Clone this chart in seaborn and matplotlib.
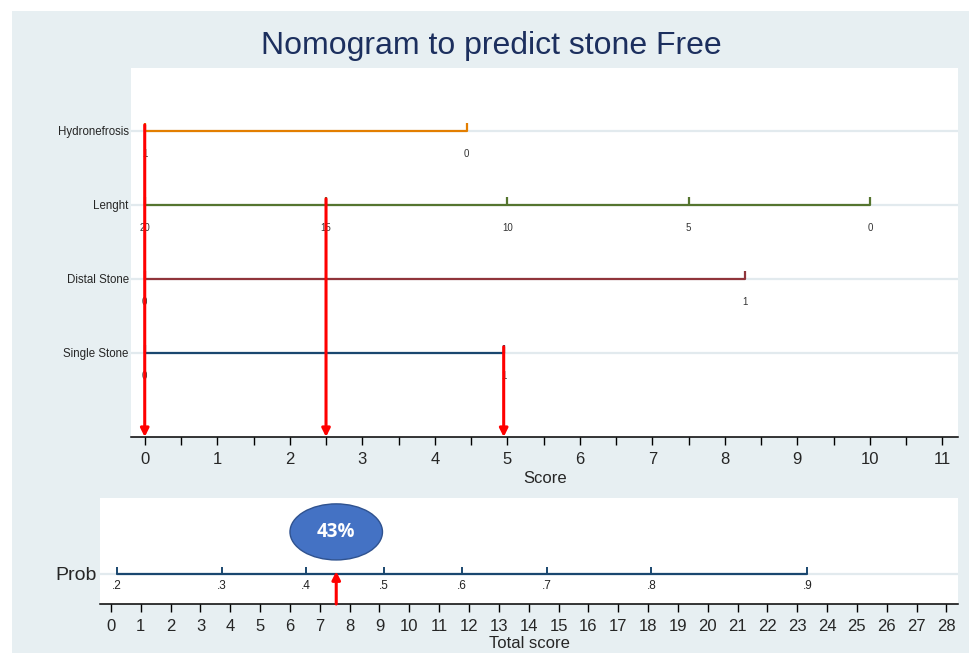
import numpy as np
import pandas as pd
import seaborn as sns
import matplotlib.pyplot as plt
from matplotlib.patches import Ellipse, Rectangle

# nomogram rows, top to bottom
variables = ["Hydronefrosis", "Lenght", "Distal Stone", "Single Stone"]
var_colors = ["#e37e00", "#55752f", "#90353b", "#1a476f"]
var_scores = [[0, 4.44], [0, 2.5, 5, 7.5, 10], [0, 8.28], [0, 4.95]]
var_levels = [["1", "0"], ["20", "15", "10", "5", "0"], ["0", "1"], ["0", "1"]]

# points read for the example patient
picked_vars = ["Hydronefrosis", "Lenght", "Single Stone"]
picked_scores = [0, 2.5, 4.95]

# probability scale against total score
prob_labels = [".2", ".3", ".4", ".5", ".6", ".7", ".8", ".9"]
prob_total = [0.2, 3.72, 6.54, 9.15, 11.77, 14.62, 18.11, 23.34]
total_score = 7.55
pred_text = "43%"

bg = "#e7eff2"
grid_c = "#e2eaee"

sns.set_theme(style="white")
plt.rcParams["font.family"] = ["Liberation Sans", "DejaVu Sans"]

rows = []
for i, (v, sc, lv) in enumerate(zip(variables, var_scores, var_levels)):
    for s, l in zip(sc, lv):
        rows.append(dict(variable=v, score=s, level=l, row=len(variables) - i))
df = pd.DataFrame(rows)
row_of = dict(zip(variables, [len(variables) - i for i in range(len(variables))]))

fig = plt.figure(figsize=(9.7, 6.53), dpi=100, facecolor="white")
# light panel behind everything, white strip on the left and top
fig.patches.append(Rectangle((12 / 970, 0), 1, 1 - 11 / 653,
                             transform=fig.transFigure, facecolor=bg,
                             edgecolor="none", zorder=-10))
ax = fig.add_axes([0.135, 0.3308, 0.853, 0.5651])
ax2 = fig.add_axes([0.103, 0.0750, 0.885, 0.1624])

tick_up = [(0, 0), (0, 1)]

# top panel: points scales
sns.lineplot(data=df, x="score", y="row", hue="variable",
             palette=dict(zip(variables, var_colors)), marker=tick_up,
             markersize=12, lw=1.6, legend=False, estimator=None, sort=False,
             ax=ax, zorder=3)
for ln in ax.lines:
    ln.set_markeredgecolor(ln.get_color())
    ln.set_markeredgewidth(1.6)

for _, r in df.iterrows():
    ax.text(r["score"], r["row"] - 0.31, r["level"], ha="center", va="center",
            fontsize=7, color="#333333", zorder=2)

ylo = -0.14
for v, s in zip(picked_vars, picked_scores):
    ax.annotate("", xy=(s, ylo), xytext=(s, row_of[v] + 0.08),
                arrowprops=dict(arrowstyle="-|>", color="red", lw=2.2,
                                mutation_scale=12, shrinkA=0, shrinkB=0),
                zorder=5)

ax.set_xlim(-0.19, 11.22)
ax.set_ylim(ylo, 4.85)
ax.set_xticks(range(0, 12))
ax.set_xticks(np.arange(0.5, 11, 1), minor=True)
ax.set_yticks(list(row_of.values()))
ax.set_yticklabels(list(row_of.keys()), fontsize=8.3)
ax.grid(axis="y", color=grid_c, lw=1.6, zorder=0)
ax.set_axisbelow(True)
for sp in ["top", "right", "left"]:
    ax.spines[sp].set_visible(False)
ax.spines["bottom"].set_color("black")
ax.spines["bottom"].set_linewidth(1.1)
ax.tick_params(axis="x", which="both", bottom=True, length=6, width=1,
               color="black", pad=4.5, labelsize=12)
ax.tick_params(axis="y", left=False, length=0, pad=1.5)
ax.set_xlabel("Score", fontsize=12, labelpad=3)
ax.set_ylabel("")

# bottom panel: total score -> probability
pdf = pd.DataFrame({"total": prob_total, "row": 0, "label": prob_labels})
sns.lineplot(data=pdf, x="total", y="row", color="#1a476f", marker=tick_up,
             markersize=10, lw=1.6, estimator=None, sort=False, ax=ax2, zorder=3)
for ln in ax2.lines:
    ln.set_markeredgecolor("#1a476f")
    ln.set_markeredgewidth(1.4)
for _, r in pdf.iterrows():
    ax2.text(r["total"], -0.42, r["label"], ha="center", va="center",
             fontsize=8.5, color="#222222")

ax2.annotate("", xy=(total_score, 0.08), xytext=(total_score, -1),
             arrowprops=dict(arrowstyle="-|>", color="red", lw=2.2,
                             mutation_scale=12, shrinkA=0, shrinkB=0),
             zorder=5)
ax2.add_patch(Ellipse((total_score, 1.38), 3.1, 1.85, facecolor="#4472c4",
                      edgecolor="#2f528f", lw=1, zorder=4))
ax2.text(total_score, 1.38, pred_text, ha="center", va="center", color="white",
         fontsize=13.5, fontweight="bold", family=["Open Sans", "DejaVu Sans"],
         zorder=6)

ax2.set_xlim(-0.37, 28.4)
ax2.set_ylim(-1, 2.5)
ax2.set_xticks(range(0, 29))
ax2.set_yticks([0])
ax2.set_yticklabels(["Prob"], fontsize=14)
ax2.grid(axis="y", color=grid_c, lw=1.6, zorder=0)
ax2.set_axisbelow(True)
for sp in ["top", "right", "left"]:
    ax2.spines[sp].set_visible(False)
ax2.spines["bottom"].set_color("black")
ax2.spines["bottom"].set_linewidth(1.1)
ax2.tick_params(axis="x", bottom=True, length=6, width=1, color="black",
                pad=4.5, labelsize=12)
ax2.tick_params(axis="y", left=False, length=0, pad=2)
ax2.set_xlabel("Total score", fontsize=12, labelpad=2)
ax2.set_ylabel("")

fig.text(0.507, 0.93, "Nomogram to predict stone Free", ha="center",
         va="center", fontsize=23, color="#1c2f5e")

fig.savefig("out.png", dpi=100, facecolor="white")
